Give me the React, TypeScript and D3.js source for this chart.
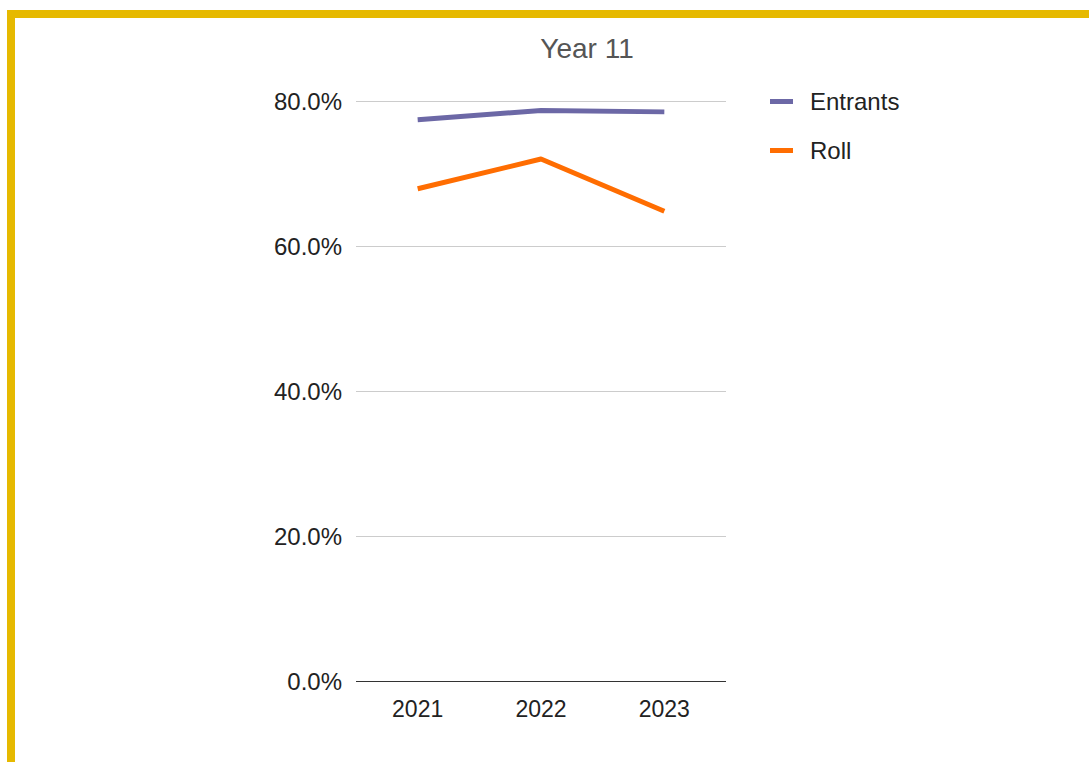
import React from "react";
import * as d3 from "d3";

const categories = ["2021", "2022", "2023"];
const entrants = [0.774, 0.787, 0.785];
const roll = [0.679, 0.72, 0.648];
const yTicks = [0, 0.2, 0.4, 0.6, 0.8];
const seriesNames = ["Entrants", "Roll"];
const seriesColors = ["#6c68a6", "#ff6d01"];

export default function App() {
  const W = 1089, H = 762;
  const left = 356, right = 726, top = 101, bottom = 681;
  const x = d3.scaleBand<string>().domain(categories).range([left, right]).padding(0);
  const y = d3.scaleLinear().domain([0, 0.8]).range([bottom, top]);
  const line = d3.line<number>()
    .x((_, i) => (x(categories[i]) as number) + x.bandwidth() / 2)
    .y((d) => y(d));
  const fmt = d3.format(".1%");
  const font = "'Liberation Sans', Arial, sans-serif";
  const series = [entrants, roll];
  return (
    <div style={{ position: "absolute", left: 0, top: 0 }}>
      <svg width={W} height={H} style={{ display: "block" }}>
        <rect x={0} y={0} width={W} height={H} fill="#fff" />
        <rect x={7} y={10} width={W - 7} height={8} fill="#e6b900" />
        <rect x={7} y={10} width={8} height={H - 10} fill="#e6b900" />
        <text x={587} y={58} textAnchor="middle" fontFamily={font} fontSize={28} fill="#555">Year 11</text>
        {yTicks.map((t) => (
          <g key={t}>
            {t > 0 && <line x1={left} x2={right} y1={y(t)} y2={y(t)} stroke="#cccccc" strokeWidth={1} shapeRendering="crispEdges" />}
            <text x={342} y={y(t) + 9} textAnchor="end" fontFamily={font} fontSize={24} fill="#222">{fmt(t)}</text>
          </g>
        ))}
        {series.map((s, i) => (
          <path key={i} d={line(s) || ""} fill="none" stroke={seriesColors[i]} strokeWidth={5} strokeLinejoin="round" />
        ))}
        <line x1={left} x2={right} y1={bottom} y2={bottom} stroke="#333" strokeWidth={1} shapeRendering="crispEdges" />
        {categories.map((c) => (
          <text key={c} x={(x(c) as number) + x.bandwidth() / 2} y={717} textAnchor="middle" fontFamily={font} fontSize={23} fill="#222">{c}</text>
        ))}
        {seriesNames.map((n, i) => (
          <g key={n}>
            <rect x={770} y={99 + i * 49} width={23} height={5} fill={seriesColors[i]} />
            <text x={810} y={110 + i * 49} fontFamily={font} fontSize={24} fill="#222">{n}</text>
          </g>
        ))}
      </svg>
    </div>
  );
}
